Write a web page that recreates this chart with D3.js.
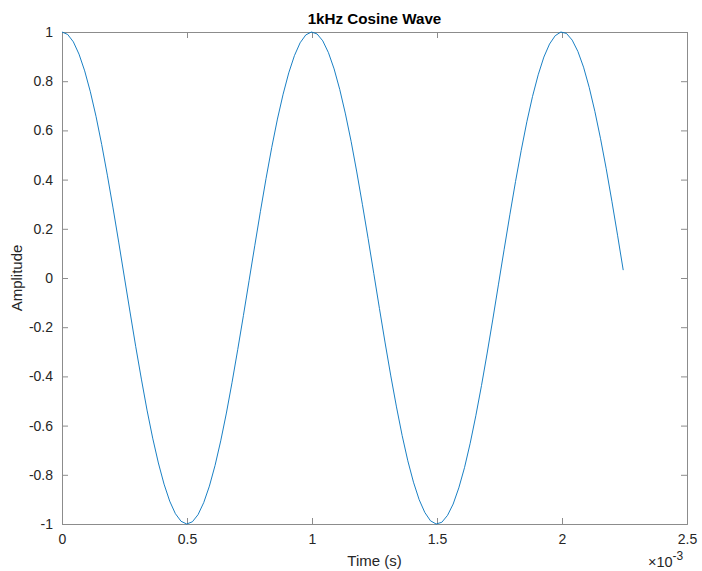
<!DOCTYPE html>
<html>
<head>
<meta charset="utf-8">
<script src="https://cdn.jsdelivr.net/npm/d3@7"></script>
<style>
  html, body { margin: 0; padding: 0; background: #fff; }
  svg { display: block; font-family: "Liberation Sans", Arial, Helvetica, sans-serif; }
</style>
</head>
<body>
<svg id="chart" width="702" height="571"></svg>
<script>
// Sample times (ms) of the 1 kHz cosine, sampled at 44.1 kHz
const timeMs = [
  0.0000, 0.0227, 0.0454, 0.0680, 0.0907, 0.1134, 0.1361, 0.1587, 0.1814, 0.2041,
  0.2268, 0.2494, 0.2721, 0.2948, 0.3175, 0.3401, 0.3628, 0.3855, 0.4082, 0.4308,
  0.4535, 0.4762, 0.4989, 0.5215, 0.5442, 0.5669, 0.5896, 0.6122, 0.6349, 0.6576,
  0.6803, 0.7029, 0.7256, 0.7483, 0.7710, 0.7937, 0.8163, 0.8390, 0.8617, 0.8844,
  0.9070, 0.9297, 0.9524, 0.9751, 0.9977, 1.0204, 1.0431, 1.0658, 1.0884, 1.1111,
  1.1338, 1.1565, 1.1791, 1.2018, 1.2245, 1.2472, 1.2698, 1.2925, 1.3152, 1.3379,
  1.3605, 1.3832, 1.4059, 1.4286, 1.4512, 1.4739, 1.4966, 1.5193, 1.5420, 1.5646,
  1.5873, 1.6100, 1.6327, 1.6553, 1.6780, 1.7007, 1.7234, 1.7460, 1.7687, 1.7914,
  1.8141, 1.8367, 1.8594, 1.8821, 1.9048, 1.9274, 1.9501, 1.9728, 1.9955, 2.0181,
  2.0408, 2.0635, 2.0862, 2.1088, 2.1315, 2.1542, 2.1769, 2.1995, 2.2222, 2.2449
];

// Amplitude at each sample
const amplitude = [
  1.000, 0.990, 0.960, 0.910, 0.842, 0.757, 0.657, 0.543, 0.418, 0.285,
  0.146, 0.004, -0.138, -0.278, -0.411, -0.537, -0.651, -0.752, -0.838, -0.907,
  -0.958, -0.989, -1.000, -0.991, -0.962, -0.913, -0.846, -0.762, -0.662, -0.549,
  -0.424, -0.291, -0.153, -0.011, 0.131, 0.271, 0.405, 0.531, 0.646, 0.747,
  0.834, 0.904, 0.956, 0.988, 1.000, 0.992, 0.964, 0.916, 0.850, 0.766,
  0.667, 0.555, 0.431, 0.298, 0.160, 0.018, -0.124, -0.264, -0.398, -0.524,
  -0.640, -0.743, -0.830, -0.901, -0.953, -0.987, -1.000, -0.993, -0.965, -0.919,
  -0.853, -0.771, -0.672, -0.560, -0.437, -0.305, -0.167, -0.025, 0.117, 0.257,
  0.392, 0.518, 0.635, 0.738, 0.826, 0.898, 0.951, 0.985, 1.000, 0.994,
  0.967, 0.921, 0.857, 0.775, 0.677, 0.566, 0.444, 0.312, 0.174, 0.032
];

const xTicks = [0, 0.5, 1, 1.5, 2, 2.5];
const yTicks = [-1, -0.8, -0.6, -0.4, -0.2, 0, 0.2, 0.4, 0.6, 0.8, 1];

const titleText = "1kHz Cosine Wave";
const xLabel = "Time (s)";
const yLabel = "Amplitude";

const svg = d3.select("#chart");
const margin = { left: 62, right: 15, top: 32, bottom: 47 };
const W = 702, H = 571;
const x0 = margin.left, x1 = W - margin.right;
const y0 = margin.top, y1 = H - margin.bottom;

const x = d3.scaleLinear().domain([0, 2.5]).range([x0, x1]);
const y = d3.scaleLinear().domain([-1, 1]).range([y1, y0]);

const axisColor = "#262626";
const tickLen = 6;
// Plain ASCII hyphen for negative labels
const fmt = d => String(+(+d).toFixed(1));

// Bottom axis with inward ticks
const gx = svg.append("g").attr("transform", `translate(0,${y1})`)
  .call(d3.axisBottom(x).tickValues(xTicks).tickSize(-tickLen).tickPadding(10).tickFormat(fmt));
// Top axis: ticks only
const gxt = svg.append("g").attr("transform", `translate(0,${y0})`)
  .call(d3.axisTop(x).tickValues(xTicks).tickSize(-tickLen).tickFormat(""));
// Left axis with inward ticks
const gy = svg.append("g").attr("transform", `translate(${x0},0)`)
  .call(d3.axisLeft(y).tickValues(yTicks).tickSize(-tickLen).tickPadding(9).tickFormat(fmt));
// Right axis: ticks only
const gyr = svg.append("g").attr("transform", `translate(${x1},0)`)
  .call(d3.axisRight(y).tickValues(yTicks).tickSize(-tickLen).tickFormat(""));

[gx, gxt, gy, gyr].forEach(g => {
  g.select(".domain").attr("stroke", "#8c8c8c").attr("stroke-width", 1);
  g.selectAll(".tick line").attr("stroke", "#8c8c8c").attr("stroke-width", 1);
  g.selectAll(".tick text").attr("fill", axisColor).attr("font-size", 14)
    .attr("font-family", "Liberation Sans, Arial, sans-serif");
});

// Cosine trace
const pts = timeMs.map((t, i) => [t, amplitude[i]]);
svg.append("path")
  .datum(pts)
  .attr("fill", "none")
  .attr("stroke", "#0072BD")
  .attr("stroke-width", 0.9)
  .attr("stroke-linejoin", "round")
  .attr("d", d3.line().x(d => x(d[0])).y(d => y(d[1])));

// Title
svg.append("text")
  .attr("x", (x0 + x1) / 2).attr("y", 24)
  .attr("text-anchor", "middle")
  .attr("font-size", 15.2).attr("font-weight", "bold").attr("fill", "#000")
  .text(titleText);

// Axis labels
svg.append("text")
  .attr("x", (x0 + x1) / 2).attr("y", 566)
  .attr("text-anchor", "middle")
  .attr("font-size", 15).attr("fill", axisColor)
  .text(xLabel);

svg.append("text")
  .attr("transform", `translate(22,${(y0 + y1) / 2}) rotate(-90)`)
  .attr("text-anchor", "middle")
  .attr("font-size", 15).attr("fill", axisColor)
  .text(yLabel);

// Exponent marker for the time axis
const ex = svg.append("text")
  .attr("x", 648).attr("y", 567)
  .attr("font-size", 14.5).attr("fill", axisColor);
ex.append("tspan").text("\u00d710");
ex.append("tspan").attr("dy", -7).attr("font-size", 12).text("-3");
</script>
</body>
</html>
